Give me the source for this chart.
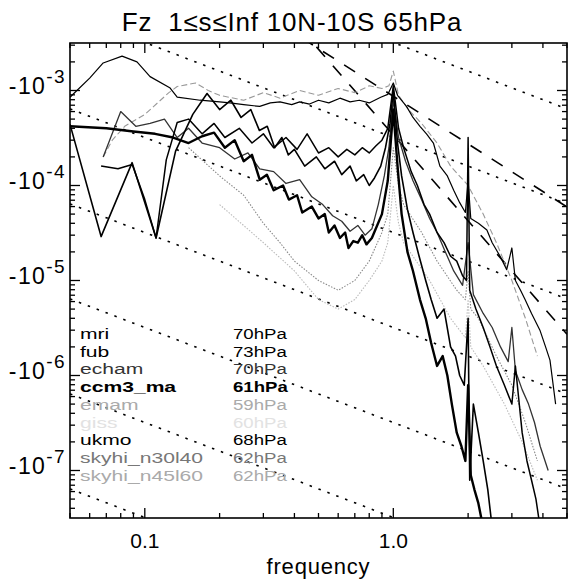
<!DOCTYPE html>
<html>
<head>
<meta charset="utf-8">
<script src="https://cdn.jsdelivr.net/npm/d3@7"></script>
<style>
  body { margin: 0; background: #fff; }
  svg text { font-family: "Liberation Sans", Arial, sans-serif; fill: #000; }
</style>
</head>
<body>
<svg id="fzSpectrum"></svg>
<script>
// frequency (cycles/day) and Fz, one pair per model
const mriFreq = [0.05, 0.06, 0.068, 0.081, 0.093, 0.105, 0.126, 0.135, 0.167, 0.2, 0.22, 0.25, 0.29, 0.32, 0.35, 0.39, 0.42, 0.46, 0.5, 0.55, 0.61, 0.67, 0.73, 0.8, 0.89, 0.95, 1.0, 1.04, 1.13, 1.2, 1.28, 1.36, 1.45, 1.54, 1.65, 1.75, 1.85, 1.95, 2.0, 2.05, 2.2, 2.38, 2.5, 2.69, 2.86, 3.0, 3.1, 3.25, 3.39, 3.6, 3.89, 4.1, 4.27, 4.5];
const mriFz = [-8.5e-4, -1.35e-3, -1.95e-3, -2.3e-3, -2.0e-3, -1.4e-3, -1.07e-3, -8.5e-4, -7.9e-4, -7.6e-4, -7.4e-4, -7.1e-4, -6.8e-4, -7.4e-4, -7.6e-4, -7.1e-4, -7.6e-4, -7.2e-4, -7.9e-4, -7.4e-4, -8.3e-4, -7.6e-4, -7.9e-4, -7.4e-4, -8.5e-4, -9.1e-4, -1.2e-3, -8.9e-4, -6.8e-4, -5.2e-4, -4.2e-4, -3.5e-4, -2.8e-4, -1.6e-4, -1.26e-4, -8.9e-5, -6.6e-5, -5.2e-5, -1.12e-4, -4.5e-5, -4.0e-5, -3.4e-5, -2.5e-5, -1.8e-5, -1.3e-5, -2.2e-5, -1.0e-5, -7.9e-6, -6.3e-6, -4.5e-6, -3.0e-6, -2.0e-6, -1.45e-6, -5.0e-7];

const fubFreq = [0.05, 0.0667, 0.0889, 0.111, 0.133, 0.156, 0.178, 0.2, 0.222, 0.244, 0.267, 0.289, 0.311, 0.333, 0.356, 0.378, 0.4, 0.44, 0.49, 0.53, 0.58, 0.62, 0.67, 0.71, 0.76, 0.8, 0.84, 0.89, 0.93, 0.97, 1.0, 1.04, 1.08, 1.14, 1.2, 1.27, 1.35, 1.42, 1.5, 1.6, 1.7, 1.78, 1.85, 1.93, 2.0, 2.03, 2.1, 2.2, 2.3, 2.4, 2.5];
const fubFz = [-4.4e-4, -2.9e-5, -1.74e-4, -2.8e-5, -2.3e-4, -5.6e-4, -9.3e-4, -6.3e-4, -7.9e-4, -5.2e-4, -6.3e-4, -3.8e-4, -4.2e-4, -2.5e-4, -3.2e-4, -2.1e-4, -2.4e-4, -1.6e-4, -2.0e-4, -1.5e-4, -1.8e-4, -1.3e-4, -1.6e-4, -1.12e-4, -1.3e-4, -1.0e-4, -1.2e-4, -1.6e-4, -2.5e-4, -4.5e-4, -1.0e-3, -2.8e-4, -1.26e-4, -5.6e-5, -3.2e-5, -1.8e-5, -1.0e-5, -6.3e-6, -4.0e-6, -5.0e-6, -2.0e-6, -1.6e-6, -1.0e-6, -7.9e-7, -4.0e-6, -7.9e-8, -5.0e-7, -2.5e-7, -1.26e-7, -6.3e-8, -2.5e-8];

const echamFreq = [0.068, 0.08, 0.092, 0.105, 0.12, 0.135, 0.15, 0.17, 0.2, 0.23, 0.26, 0.29, 0.33, 0.37, 0.42, 0.47, 0.52, 0.57, 0.62, 0.67, 0.72, 0.77, 0.82, 0.87, 0.92, 0.96, 1.0, 1.05, 1.12, 1.2, 1.3, 1.4, 1.5, 1.62, 1.75, 1.9, 2.0, 2.1, 2.3, 2.5, 2.7, 2.9, 3.0, 3.1, 3.3, 3.5, 3.7, 3.9, 4.2];
const echamFz = [-2.0e-4, -6.0e-4, -4.2e-4, -4.5e-4, -5.0e-4, -3.2e-4, -4.0e-4, -2.8e-4, -2.5e-4, -1.9e-4, -2.2e-4, -1.5e-4, -1.4e-4, -1.05e-4, -1.15e-4, -7.6e-5, -6.3e-5, -4.8e-5, -4.2e-5, -3.3e-5, -3.8e-5, -3.0e-5, -3.5e-5, -6.3e-5, -1.26e-4, -2.5e-4, -7.9e-4, -3.2e-4, -1.8e-4, -1.12e-4, -7.1e-5, -4.5e-5, -3.2e-5, -2.0e-5, -1.26e-5, -8.9e-6, -2.5e-5, -7.1e-6, -4.5e-6, -3.2e-6, -2.0e-6, -1.4e-6, -3.2e-6, -1.12e-6, -7.1e-7, -5.0e-7, -3.2e-7, -1.8e-7, -1.0e-7];

const ccm3Freq = [0.05, 0.07, 0.09, 0.11, 0.13, 0.15, 0.17, 0.19, 0.21, 0.23, 0.25, 0.27, 0.29, 0.31, 0.33, 0.36, 0.38, 0.41, 0.43, 0.47, 0.5, 0.53, 0.55, 0.58, 0.61, 0.64, 0.66, 0.69, 0.72, 0.75, 0.78, 0.82, 0.85, 0.9, 0.95, 0.98, 1.0, 1.04, 1.08, 1.14, 1.2, 1.28, 1.35, 1.42, 1.5, 1.58, 1.65, 1.72, 1.8, 1.88, 1.95, 2.0, 2.05, 2.12, 2.2, 2.3];
const ccm3Fz = [-4.2e-4, -4.0e-4, -3.7e-4, -3.5e-4, -3.2e-4, -2.8e-4, -3.3e-4, -3.6e-4, -2.5e-4, -3.0e-4, -1.8e-4, -2.1e-4, -1.15e-4, -1.3e-4, -8.9e-5, -1.0e-4, -7.1e-5, -7.9e-5, -5.2e-5, -6.0e-5, -4.5e-5, -5.0e-5, -3.2e-5, -3.8e-5, -2.8e-5, -3.2e-5, -2.2e-5, -2.6e-5, -2.5e-5, -3.0e-5, -2.4e-5, -2.8e-5, -3.5e-5, -5.0e-5, -1.12e-4, -3.2e-4, -6.3e-4, -1.6e-4, -5.0e-5, -2.0e-5, -1.26e-5, -6.3e-6, -4.0e-6, -2.2e-6, -1.26e-6, -1.6e-6, -1.0e-6, -5.0e-7, -2.5e-7, -1.8e-7, -1.26e-7, -7.9e-7, -8.9e-8, -6.3e-8, -4.5e-8, -2.5e-8];

const emamFreq = [0.068, 0.074, 0.083, 0.1, 0.125, 0.135, 0.16, 0.18, 0.2, 0.25, 0.3, 0.35, 0.42, 0.5, 0.6, 0.7, 0.8, 0.9, 0.96, 1.0, 1.05, 1.15, 1.3, 1.5, 1.7, 2.0, 2.3, 2.6, 3.0, 3.4, 3.8];
const emamFz = [-2.0e-4, -3.0e-4, -4.2e-4, -5.6e-4, -9.5e-4, -1.1e-3, -1.2e-3, -1.0e-3, -8.9e-4, -7.9e-4, -9.5e-4, -8.3e-4, -1.0e-3, -8.9e-4, -1.05e-3, -9.5e-4, -1.12e-3, -1.05e-3, -1.12e-3, -1.6e-3, -8.9e-4, -6.3e-4, -4.5e-4, -2.8e-4, -1.6e-4, -1.0e-4, -5.0e-5, -2.5e-5, -1.0e-5, -4.0e-6, -1.6e-6];

const ukmoFreq = [0.0667, 0.078, 0.089, 0.1, 0.111, 0.122, 0.135, 0.15, 0.17, 0.19, 0.21, 0.24, 0.27, 0.3, 0.33, 0.37, 0.41, 0.45, 0.5, 0.55, 0.6, 0.65, 0.7, 0.75, 0.8, 0.85, 0.9, 0.95, 1.0, 1.05, 1.1, 1.18, 1.25, 1.33, 1.4, 1.5, 1.6, 1.7, 1.8, 1.9, 1.97, 2.0, 2.03, 2.15, 2.3, 2.45, 2.6, 2.8, 3.0, 3.1, 3.3, 3.45, 3.6, 3.75, 3.9];
const ukmoFz = [-1.6e-4, -1.5e-4, -1.66e-4, -7.1e-5, -2.8e-5, -1.86e-4, -4.6e-4, -5.0e-4, -3.5e-4, -4.5e-4, -3.2e-4, -4.0e-4, -2.8e-4, -3.5e-4, -2.5e-4, -3.2e-4, -2.4e-4, -3.5e-4, -2.2e-4, -2.5e-4, -2.0e-4, -2.4e-4, -2.1e-4, -2.5e-4, -2.2e-4, -2.6e-4, -3.0e-4, -4.0e-4, -1.12e-3, -4.0e-4, -2.5e-4, -1.4e-4, -1.0e-4, -6.3e-5, -5.0e-5, -3.2e-5, -2.5e-5, -1.8e-5, -1.6e-5, -1.12e-5, -1.0e-5, -3.2e-4, -7.9e-6, -5.0e-6, -3.2e-6, -2.0e-6, -1.26e-6, -7.9e-7, -5.0e-7, -1.26e-6, -2.5e-7, -1.26e-7, -7.9e-8, -5.0e-8, -2.5e-8];

const skyhi30Freq = [0.15, 0.2, 0.25, 0.3, 0.35, 0.4, 0.5, 0.6, 0.7, 0.8, 0.9, 0.95, 1.0, 1.05, 1.1, 1.3, 1.5, 1.8, 1.95, 2.0, 2.05, 2.2, 2.6, 3.0, 3.4, 3.8];
const skyhi30Fz = [-2.5e-4, -1.26e-4, -7.9e-5, -4.0e-5, -2.5e-5, -1.6e-5, -1.0e-5, -7.9e-6, -1.0e-5, -1.6e-5, -3.2e-5, -5.0e-5, -2.5e-4, -1.0e-4, -6.3e-5, -3.2e-5, -1.6e-5, -7.9e-6, -6.3e-6, -1.26e-5, -5.0e-6, -4.0e-6, -1.6e-6, -7.9e-7, -3.2e-7, -1.26e-7];

const skyhi45Freq = [0.2, 0.3, 0.4, 0.5, 0.6, 0.7, 0.8, 0.9, 0.95, 1.0, 1.05, 1.1, 1.4, 1.7, 1.95, 2.0, 2.05, 2.3, 2.8, 3.3, 3.8];
const skyhi45Fz = [-6.3e-5, -2.5e-5, -1.26e-5, -6.3e-6, -5.0e-6, -6.3e-6, -1.0e-5, -1.6e-5, -2.5e-5, -1.0e-4, -4.0e-5, -2.5e-5, -1.0e-5, -4.0e-6, -2.5e-6, -6.3e-6, -2.0e-6, -1.26e-6, -5.0e-7, -2.0e-7, -7.9e-8];

// legend rows (name, level)
const legendNames = ["mri", "fub", "echam", "ccm3_ma", "emam", "giss", "ukmo", "skyhi_n30l40", "skyhi_n45l60"];
const legendLevels = ["70hPa", "73hPa", "70hPa", "61hPa", "59hPa", "60hPa", "68hPa", "62hPa", "62hPa"];

// axis labels
const xTickValues = [0.1, 1.0];
const xTickLabels = ["0.1", "1.0"];
const yTickExponents = [-3, -4, -5, -6, -7];

// reference slopes: dotted Fz = -amp/f, dashed Fz = -amp*f^-power
const dottedAmps = [3.2e-3, 3.2e-4, 3.2e-5, 3.2e-6, 3.2e-7, 3.2e-8, 3.2e-9];
const dashedAmps = [3.4e-4, 8.7e-4];
const dashedPowers = [3, 5 / 3];

class FzChart {
  constructor(_width, _height, _margins) {
    this.width = _width;
    this.height = _height;
    this.margins = _margins;
    this.svg = d3
      .select("svg#fzSpectrum")
      .attr("width", this.width)
      .attr("height", this.height);

    this.xScale = this.getXScale([0.05, 5]);
    this.yScale = this.getYScale([3.162e-3, 3.162e-8]);

    this.svg
      .append("clipPath")
      .attr("id", "plotClip")
      .append("rect")
      .attr("x", this.margins.left)
      .attr("y", this.margins.top)
      .attr("width", this.width - this.margins.left - this.margins.right)
      .attr("height", this.height - this.margins.top - this.margins.bottom);

    this.refGroup = this.svg.append("g").attr("clip-path", "url(#plotClip)");
    this.curveGroup = this.svg.append("g").attr("clip-path", "url(#plotClip)");
    this.legendGroup = this.svg.append("g").attr("id", "legendGroup");
    this.axisGroup = this.svg.append("g").attr("id", "axisGroup");

    this.plotRefLines();
    this.plotCurves();
    this.plotLegend();
    this.plotFrame();
    this.plotLabels();
  }

  getXScale(domain) {
    return d3
      .scaleLog()
      .domain(domain)
      .range([this.margins.left, this.width - this.margins.right]);
  }

  // magnitude of Fz, larger magnitude at the top
  getYScale(domain) {
    return d3
      .scaleLog()
      .domain(domain)
      .range([this.margins.top, this.height - this.margins.bottom]);
  }

  getLinePath() {
    return d3
      .line()
      .x((d) => this.xScale(d.f))
      .y((d) => this.yScale(Math.abs(d.fz)));
  }

  plotRefLines() {
    let ends = [0.05, 5];
    this.refGroup
      .append("g")
      .selectAll("path")
      .data(dottedAmps)
      .join("path")
      .attr("d", (amp) => this.getLinePath()(ends.map((f) => ({ f: f, fz: -amp / f }))))
      .attr("fill", "none")
      .attr("stroke", "#000")
      .attr("stroke-width", 1.6)
      .attr("stroke-dasharray", "2.5 7");

    this.refGroup
      .append("g")
      .selectAll("path")
      .data(dashedAmps)
      .join("path")
      .attr("d", (amp, i) =>
        this.getLinePath()(ends.map((f) => ({ f: f, fz: -amp * Math.pow(f, -dashedPowers[i]) })))
      )
      .attr("fill", "none")
      .attr("stroke", "#000")
      .attr("stroke-width", 1.6)
      .attr("stroke-dasharray", "13 12");
  }

  plotCurves() {
    let series = [
      { name: "skyhi_n45l60", f: skyhi45Freq, fz: skyhi45Fz },
      { name: "skyhi_n30l40", f: skyhi30Freq, fz: skyhi30Fz },
      { name: "emam", f: emamFreq, fz: emamFz },
      { name: "echam", f: echamFreq, fz: echamFz },
      { name: "mri", f: mriFreq, fz: mriFz },
      { name: "ukmo", f: ukmoFreq, fz: ukmoFz },
      { name: "fub", f: fubFreq, fz: fubFz },
      { name: "ccm3_ma", f: ccm3Freq, fz: ccm3Fz },
    ];
    let styles = {
      mri: { color: "#000", width: 1.2, dash: null },
      fub: { color: "#000", width: 1.6, dash: null },
      echam: { color: "#333", width: 1.3, dash: null },
      ccm3_ma: { color: "#000", width: 2.4, dash: null },
      emam: { color: "#999", width: 1.1, dash: "6 3" },
      ukmo: { color: "#000", width: 1.5, dash: null },
      skyhi_n30l40: { color: "#888", width: 1.1, dash: "1.5 1.5" },
      skyhi_n45l60: { color: "#bbb", width: 1.1, dash: "1.5 1.5" },
    };

    this.curveGroup
      .selectAll("path")
      .data(series)
      .join("path")
      .attr("class", (d) => d.name)
      .attr("d", (d) => this.getLinePath()(d.f.map((f, i) => ({ f: f, fz: d.fz[i] }))))
      .attr("fill", "none")
      .attr("stroke-linejoin", "round")
      .attr("stroke", (d) => styles[d.name].color)
      .attr("stroke-width", (d) => styles[d.name].width)
      .attr("stroke-dasharray", (d) => styles[d.name].dash);
  }

  plotLegend() {
    let textStyles = {
      mri: ["#000", "normal"],
      fub: ["#000", "normal"],
      echam: ["#333", "normal"],
      ccm3_ma: ["#000", "bold"],
      emam: ["#aaa", "normal"],
      giss: ["#e2e2e2", "normal"],
      ukmo: ["#000", "normal"],
      skyhi_n30l40: ["#777", "normal"],
      skyhi_n45l60: ["#aaa", "normal"],
    };
    // the plot font is wide and short, so the rows are stretched sideways
    let rows = this.legendGroup
      .selectAll("g")
      .data(legendNames)
      .join("g")
      .attr("transform", (d, i) => `translate(0,${339 + i * 17.7})`)
      .style("font-size", "15.5px");

    rows
      .append("text")
      .attr("transform", "translate(80,0) scale(1.36,1)")
      .text((d) => d)
      .style("fill", (d) => textStyles[d][0])
      .style("font-weight", (d) => textStyles[d][1]);

    rows
      .append("text")
      .attr("transform", "translate(233,0) scale(1.2,1)")
      .text((d, i) => legendLevels[i])
      .style("fill", (d) => textStyles[d][0])
      .style("font-weight", (d) => textStyles[d][1]);
  }

  plotFrame() {
    let left = this.margins.left;
    let right = this.width - this.margins.right;
    let top = this.margins.top;
    let bottom = this.height - this.margins.bottom;
    let isMajor = (v) => Math.abs(Math.log10(v) - Math.round(Math.log10(v))) < 1e-6;

    let xTicks = this.xScale.ticks();
    let yTicks = this.yScale.ticks();

    let tickGroup = this.axisGroup.append("g").attr("stroke", "#000").attr("stroke-width", 1.3);
    // bottom and top
    [bottom, top].forEach((y0, k) => {
      let dir = k === 0 ? -1 : 1;
      tickGroup
        .append("g")
        .selectAll("line")
        .data(xTicks)
        .join("line")
        .attr("x1", (d) => this.xScale(d))
        .attr("x2", (d) => this.xScale(d))
        .attr("y1", y0)
        .attr("y2", (d) => y0 + dir * (isMajor(d) ? 10 : 5));
    });
    // left and right
    [left, right].forEach((x0, k) => {
      let dir = k === 0 ? 1 : -1;
      tickGroup
        .append("g")
        .selectAll("line")
        .data(yTicks)
        .join("line")
        .attr("y1", (d) => this.yScale(d))
        .attr("y2", (d) => this.yScale(d))
        .attr("x1", x0)
        .attr("x2", (d) => x0 + dir * (isMajor(d) ? 10 : 5));
    });

    this.axisGroup
      .append("rect")
      .attr("x", left)
      .attr("y", top)
      .attr("width", right - left)
      .attr("height", bottom - top)
      .attr("fill", "none")
      .attr("stroke", "#000")
      .attr("stroke-width", 1.6);
  }

  plotLabels() {
    let bottom = this.height - this.margins.bottom;

    this.axisGroup
      .append("g")
      .selectAll("text")
      .data(xTickValues)
      .join("text")
      .attr("x", (d) => this.xScale(d))
      .attr("y", bottom + 30)
      .attr("text-anchor", "middle")
      .style("font-size", "21px")
      .text((d, i) => xTickLabels[i]);

    let yLabels = this.axisGroup
      .append("g")
      .selectAll("text")
      .data(yTickExponents)
      .join("text")
      .attr("x", 66)
      .attr("y", (d) => this.yScale(Math.pow(10, d)) + 4)
      .attr("text-anchor", "end")
      .style("font-size", "23px")
      .style("letter-spacing", "1.4px");
    yLabels.append("tspan").text("-10");
    yLabels
      .append("tspan")
      .attr("dy", -11)
      .style("font-size", "19px")
      .text((d) => String(d));

    this.svg
      .append("text")
      .attr("x", (this.margins.left + this.width - this.margins.right) / 2)
      .attr("y", bottom + 56)
      .attr("text-anchor", "middle")
      .style("font-size", "22px")
      .style("letter-spacing", "0.8px")
      .text("frequency");

    this.svg
      .append("text")
      .attr("x", 292)
      .attr("y", 31)
      .attr("text-anchor", "middle")
      .style("font-size", "26px")
      .style("letter-spacing", "0.8px")
      .style("white-space", "pre")
      .text("Fz  1\u2264s\u2264Inf 10N-10S 65hPa");
  }
}

new FzChart(570, 583, { top: 43, right: 3, bottom: 65, left: 70 });
</script>
</body>
</html>
